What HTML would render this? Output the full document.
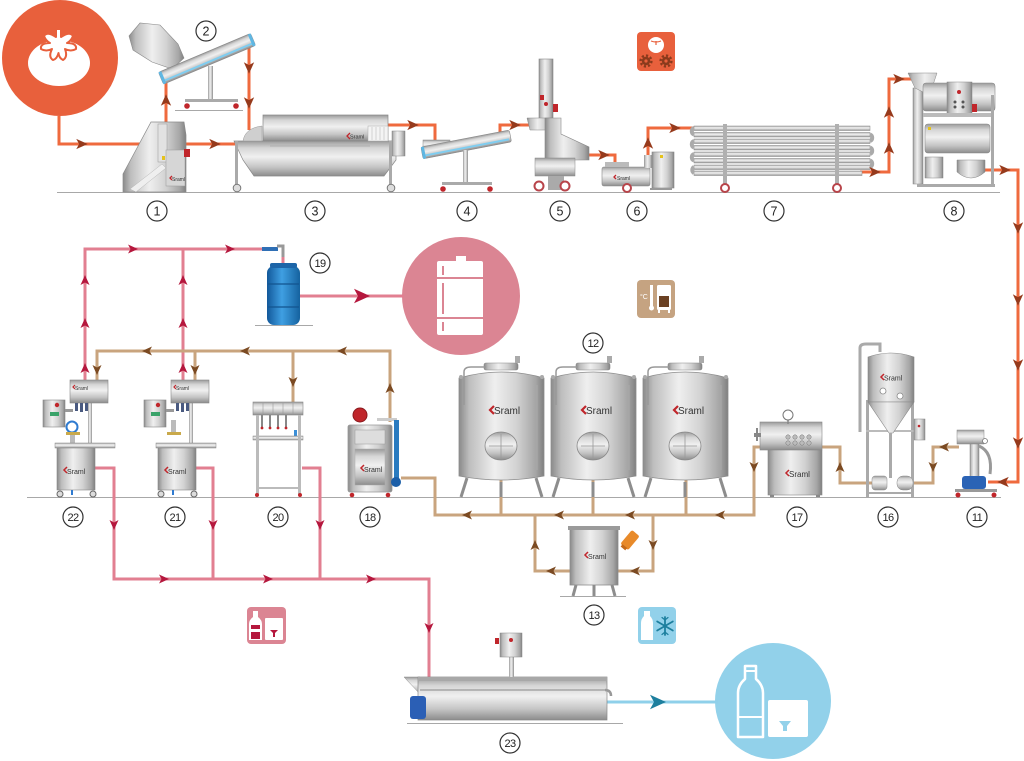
<!DOCTYPE html>
<html><head><meta charset="utf-8"><style>
html,body{margin:0;padding:0;background:#fff;}
svg{display:block;}
text{font-family:"Liberation Sans",sans-serif;}
</style></head><body>
<svg width="1024" height="761" viewBox="0 0 1024 761" xmlns="http://www.w3.org/2000/svg">
<defs>
<linearGradient id="gH" x1="0" y1="0" x2="1" y2="0">
<stop offset="0" stop-color="#8a8a8a"/><stop offset="0.12" stop-color="#bdbdbd"/><stop offset="0.42" stop-color="#efefef"/><stop offset="0.68" stop-color="#d2d2d2"/><stop offset="0.9" stop-color="#a6a6a6"/><stop offset="1" stop-color="#808080"/>
</linearGradient>
<linearGradient id="gV" x1="0" y1="0" x2="0" y2="1">
<stop offset="0" stop-color="#9a9a9a"/><stop offset="0.2" stop-color="#d6d6d6"/><stop offset="0.45" stop-color="#f0f0f0"/><stop offset="0.75" stop-color="#c4c4c4"/><stop offset="1" stop-color="#8c8c8c"/>
</linearGradient>
<linearGradient id="gB" x1="0" y1="0" x2="1" y2="0">
<stop offset="0" stop-color="#12589a"/><stop offset="0.45" stop-color="#3f9fe2"/><stop offset="1" stop-color="#15629f"/>
</linearGradient>
<polygon id="ar" points="-5,-4.5 5,0 -5,4.5 -2.5,0"/>
</defs>

<!-- ground lines -->
<g stroke="#a8a8a8" stroke-width="1">
<line x1="57" y1="192.5" x2="1000" y2="192.5"/>
<line x1="27" y1="497.5" x2="1001" y2="497.5"/>
<line x1="175" y1="110.5" x2="243" y2="110.5"/>
<line x1="255" y1="325.5" x2="313" y2="325.5"/>
<line x1="560" y1="596.5" x2="626" y2="596.5"/>
<line x1="407" y1="723.5" x2="623" y2="723.5"/>
</g>

<!-- big circles -->
<circle cx="60" cy="58" r="58" fill="#e8603c"/>
<ellipse cx="59" cy="63" rx="31" ry="23" fill="#fff"/>
<path d="M56,29 H61 V37 Q70,31 73,36 Q71,41 67,43 Q77,43 76,49 Q71,52 65,49 Q68,57 63,60 Q59,58 58.5,53 Q57,59 53,60 Q48,57 52,49 Q46,52 41,49 Q40,43 50,43 Q46,41 44,36 Q47,31 56,37 Z" fill="#fff" stroke="#e8603c" stroke-width="2" stroke-linejoin="round"/>

<circle cx="461" cy="296" r="59" fill="#db8593"/>
<rect x="456" y="256" width="10" height="6" fill="#fff"/>
<rect x="437" y="261" width="46" height="74" rx="2" fill="#fff"/>
<g stroke="#db8593" stroke-width="2">
<line x1="437" y1="278" x2="483" y2="278"/><line x1="437" y1="318" x2="483" y2="318"/>
<line x1="443" y1="266" x2="443" y2="275"/><line x1="443" y1="283" x2="443" y2="314"/><line x1="443" y1="322" x2="443" y2="331"/>
</g>

<circle cx="773" cy="701" r="58" fill="#92d1ea"/>
<path d="M745,666 H756 V679 Q763,685 763,693 V737 H738 V693 Q738,685 745,679 Z" fill="none" stroke="#fff" stroke-width="2.5" stroke-linejoin="round"/>
<line x1="745" y1="671" x2="756" y2="671" stroke="#fff" stroke-width="2"/>
<line x1="738" y1="717" x2="763" y2="717" stroke="#fff" stroke-width="2"/>
<rect x="768" y="700" width="40" height="37" rx="2" fill="#fff"/>
<polygon points="779,721 791,721 787,726 787,731 783,731 783,726" fill="#92d1ea"/>

<!-- icon squares -->
<rect x="637" y="32" width="38" height="39" rx="4" fill="#e8603c"/>
<circle cx="656" cy="45" r="8" fill="#fff"/>
<path d="M651,41 q5,2 10,0 M656,41 v4" stroke="#e8603c" stroke-width="1.2" fill="none"/>
<g fill="#8a3a1c">
<circle cx="646" cy="61" r="4.2"/><circle cx="666" cy="61" r="4.2"/>
</g>
<g fill="none" stroke="#8a3a1c" stroke-width="2.4" stroke-dasharray="2.2 2">
<circle cx="646" cy="61" r="5.4"/><circle cx="666" cy="61" r="5.4"/>
</g>
<circle cx="646" cy="61" r="1.6" fill="#e8603c"/><circle cx="666" cy="61" r="1.6" fill="#e8603c"/>

<rect x="637" y="280" width="38" height="38" rx="4" fill="#c5a381"/>
<text x="640" y="299" font-size="7" fill="#fff">°C</text>
<rect x="650" y="285" width="3" height="22" fill="#fff"/><circle cx="651.5" cy="308" r="2.5" fill="#fff"/>
<rect x="657" y="285" width="14" height="25" rx="1.5" fill="#fff"/>
<rect x="659" y="296" width="10" height="11" fill="#6b4123"/>
<rect x="658" y="310" width="2" height="3" fill="#fff"/><rect x="668" y="310" width="2" height="3" fill="#fff"/>

<rect x="247" y="607" width="39" height="37" rx="4" fill="#db8593"/>
<path d="M253,611 H258 V617 Q262,620 262,624 V640 H249 V624 Q249,620 253,617 Z" fill="#fff"/>
<rect x="251" y="625" width="9" height="4" fill="#b5173d"/><rect x="251" y="632" width="9" height="7" fill="#b5173d"/>
<rect x="265" y="618" width="18" height="22" rx="1" fill="#fff"/>
<polygon points="270,630 278,630 275,633 275,637 273,637 273,633" fill="#b5173d"/>

<rect x="638" y="607" width="38" height="37" rx="4" fill="#92d1ea"/>
<path d="M644,611 H650 V616 Q653,619 653,623 V640 H641 V623 Q641,619 644,616 Z" fill="#fff"/>
<g stroke="#1d7f9e" stroke-width="1.8" stroke-linecap="round">
<line x1="665" y1="617" x2="665" y2="635"/><line x1="657.2" y1="621.5" x2="672.8" y2="630.5"/><line x1="657.2" y1="630.5" x2="672.8" y2="621.5"/>
<path d="M662,617.5 l3,2.5 3,-2.5 M662,634.5 l3,-2.5 3,2.5" fill="none" stroke-width="1.2"/>
</g>

<!-- PIPES -->
<g fill="none" stroke="#ef6a3e" stroke-width="3" stroke-linejoin="miter">
<path d="M59,116 V144 H242"/>
<path d="M166,124 V76"/>
<path d="M249,44 V130"/>
<path d="M386,125 H435 V142"/>
<path d="M500,140 V125 H537"/>
<path d="M587,155 H615 V168"/>
<path d="M648,160 V128 H694"/>
<path d="M860,172 H889 V79 H912"/>
<path d="M985,170 H1018 V482 H988"/>
</g>
<g fill="none" stroke="#e27f91" stroke-width="3">
<path d="M85,384 V249 H275"/>
<path d="M183,384 V249"/>
<path d="M283,255 V267"/>
<path d="M299,296 H404"/>
<path d="M95,468 H114 V579 H429 V680"/>
<path d="M195,468 H213 V579"/>
<path d="M302,468 H320 V579"/>
</g>
<path d="M262,249 H278" stroke="#2f6fb5" stroke-width="4"/>
<path d="M277,246 H283 V257" fill="none" stroke="#999" stroke-width="3"/>
<g fill="none" stroke="#c9a47e" stroke-width="3">
<path d="M97,382 V351 H390 V422"/>
<path d="M195,351 V382"/>
<path d="M293,351 V404"/>
<path d="M401,478 H435 V515 H754 V447 H770"/>
<path d="M501,476 V515 M593,476 V515 M686,476 V515"/>
<path d="M535,515 V571 H572"/>
<path d="M616,571 H653 V515"/>
<path d="M820,447 H840 V483 H874"/>
<path d="M911,483 H933 V447 H959"/>
</g>
<path d="M605,702 H718" stroke="#8fd0ea" stroke-width="3"/>

<!-- MACHINE 1 -->
<polygon points="123,192 123,174 151,122 184,122 186,135 186,192" fill="url(#gH)" stroke="#8a8a8a" stroke-width="0.7"/>
<rect x="158" y="124" width="9" height="38" fill="#e2e2e2" stroke="#999" stroke-width="0.5"/>
<rect x="166" y="150" width="19" height="36" fill="#d6d6d6" stroke="#999" stroke-width="0.5"/>
<polygon points="130,189 162,164 166,168 136,192" fill="#efefef" stroke="#aaa" stroke-width="0.4"/>
<rect x="184" y="149" width="6" height="8" fill="#c0262b"/>
<rect x="162" y="156" width="3" height="4" fill="#e5c21c"/>
<path d="M172,176 l-2,2 2,2" stroke="#c0262b" stroke-width="1.3" fill="none"/><text x="172" y="181" font-size="5" fill="#333">Sraml</text>

<!-- MACHINE 2 -->
<polygon points="129,36 140,23 160,25 178,44 184,58 172,69 152,62 133,50" fill="url(#gH)" stroke="#8a8a8a" stroke-width="0.6"/>
<g transform="translate(163,78) rotate(-22.9)">
<rect x="-2" y="-7" width="100" height="13" rx="2" fill="url(#gV)" stroke="#888" stroke-width="0.6"/>
<rect x="0" y="2" width="96" height="2" fill="#7fcdf0"/>
<rect x="-2" y="-7" width="3" height="13" fill="#5fb7e3"/>
<rect x="95" y="-7" width="3" height="13" fill="#5fb7e3"/>
</g>
<rect x="208" y="66" width="5" height="34" fill="url(#gH)"/>
<rect x="185" y="99" width="53" height="3" fill="#aaa"/>
<circle cx="187" cy="106" r="2.8" fill="#c0262b"/><circle cx="236" cy="106" r="2.8" fill="#c0262b"/>

<!-- MACHINE 3 -->
<rect x="263" y="115" width="125" height="26" fill="url(#gV)" stroke="#888" stroke-width="0.7"/>
<polygon points="234,141 396,141 396,160 384,176 254,176 243,160" fill="url(#gV)" stroke="#888" stroke-width="0.7"/>
<path d="M243,141 Q245,128 262,126 V141 Z" fill="#cfcfcf" stroke="#999" stroke-width="0.5"/>
<rect x="368" y="126" width="20" height="15" fill="#f4f4f4" stroke="#aaa" stroke-width="0.5"/>
<g stroke="#bbb" stroke-width="0.6"><line x1="372" y1="127" x2="372" y2="140"/><line x1="376" y1="127" x2="376" y2="140"/><line x1="380" y1="127" x2="380" y2="140"/><line x1="384" y1="127" x2="384" y2="140"/></g>
<rect x="392" y="131" width="13" height="25" fill="url(#gH)" stroke="#888" stroke-width="0.5"/>
<rect x="235" y="141" width="3" height="45" fill="#aaa"/><rect x="389" y="141" width="3" height="45" fill="#aaa"/>
<circle cx="237" cy="188" r="3.8" fill="#ddd" stroke="#777" stroke-width="1"/><circle cx="391" cy="188" r="3.8" fill="#ddd" stroke="#777" stroke-width="1"/>
<line x1="270" y1="146" x2="370" y2="146" stroke="#aaa" stroke-width="0.8"/>
<path d="M350,133 l-3,3 3,3" stroke="#c0262b" stroke-width="1.3" fill="none"/><text x="350" y="138.5" font-size="5.5" fill="#333">Sraml</text>

<!-- MACHINE 4 -->
<rect x="423" y="140" width="27" height="10" fill="url(#gV)" stroke="#888" stroke-width="0.5"/>
<g transform="translate(422,153) rotate(-10.9)">
<rect x="0" y="-6" width="90" height="12" rx="2" fill="url(#gV)" stroke="#888" stroke-width="0.6"/>
<rect x="2" y="2" width="86" height="2" fill="#7fcdf0"/>
<rect x="0" y="-6" width="3" height="12" fill="#5fb7e3"/>
</g>
<rect x="463" y="150" width="5" height="33" fill="url(#gH)"/>
<rect x="442" y="182" width="50" height="3" fill="#aaa"/>
<circle cx="443" cy="189" r="2.8" fill="#c0262b"/><circle cx="490" cy="189" r="2.8" fill="#c0262b"/>

<!-- MACHINE 5 -->
<rect x="539" y="59" width="14" height="60" fill="url(#gH)" stroke="#888" stroke-width="0.6"/>
<rect x="540" y="95" width="4" height="5" fill="#c0262b"/><rect x="553" y="104" width="5" height="8" fill="#c0262b"/>
<circle cx="546" cy="104" r="2" fill="#c0262b"/>
<polygon points="527,118 552,118 552,130 530,130" fill="url(#gH)" stroke="#888" stroke-width="0.5"/>
<polygon points="545,118 561,118 561,134 589,147 589,160 545,160" fill="url(#gH)" stroke="#888" stroke-width="0.6"/>
<rect x="535" y="158" width="40" height="18" fill="url(#gV)" stroke="#888" stroke-width="0.5"/>
<rect x="548" y="176" width="16" height="14" fill="#aaa"/>
<circle cx="539" cy="186" r="4.5" fill="#fff" stroke="#b8444a" stroke-width="2"/><circle cx="565" cy="186" r="4.5" fill="#fff" stroke="#b8444a" stroke-width="2"/>

<!-- MACHINE 6 -->
<rect x="602" y="167" width="48" height="19" rx="2" fill="url(#gV)" stroke="#888" stroke-width="0.6"/>
<rect x="605" y="162" width="24" height="5" fill="#bbb"/>
<rect x="644" y="155" width="8" height="13" fill="url(#gH)"/>
<rect x="652" y="152" width="22" height="36" fill="url(#gH)" stroke="#888" stroke-width="0.6"/>
<rect x="660" y="155" width="3" height="3" fill="#e5c21c"/>
<rect x="650" y="188" width="22" height="2" fill="#999"/>
<circle cx="627" cy="188" r="4" fill="#fff" stroke="#b8444a" stroke-width="2"/>
<path d="M616,175 l-2,2 2,2" stroke="#c0262b" stroke-width="1.3" fill="none"/><text x="617" y="180" font-size="5" fill="#333">Sraml</text>

<!-- MACHINE 7 -->
<g fill="url(#gV)" stroke="#888" stroke-width="0.5">
<rect x="694" y="126" width="176" height="4.5"/>
<rect x="694" y="132.5" width="176" height="4.5"/>
<rect x="694" y="139" width="176" height="4.5"/>
<rect x="694" y="145.5" width="176" height="4.5"/>
<rect x="694" y="152" width="176" height="4.5"/>
<rect x="694" y="158.5" width="176" height="4.5"/>
<rect x="694" y="165" width="176" height="4.5"/>
<rect x="694" y="171" width="168" height="4.5"/>
</g>
<g fill="none" stroke="#aaa" stroke-width="4">
<path d="M694,134.5 A3.5,3.5 0 0 1 694,128"/>
<path d="M694,147.5 A3.5,3.5 0 0 1 694,141"/>
<path d="M694,160.5 A3.5,3.5 0 0 1 694,154"/>
<path d="M694,173 A3.5,3.5 0 0 1 694,167"/>
<path d="M870,141 A3.5,3.5 0 0 0 870,134.5"/>
<path d="M870,154 A3.5,3.5 0 0 0 870,147.5"/>
<path d="M870,167 A3.5,3.5 0 0 0 870,160.5"/>
</g>
<rect x="723" y="124" width="4" height="62" fill="#b0b0b0"/><rect x="835" y="124" width="4" height="62" fill="#b0b0b0"/>
<circle cx="725" cy="188" r="4" fill="#fff" stroke="#b8444a" stroke-width="2"/><circle cx="837" cy="188" r="4" fill="#fff" stroke="#b8444a" stroke-width="2"/>

<!-- MACHINE 8 -->
<rect x="913" y="88" width="10" height="96" fill="url(#gH)" stroke="#888" stroke-width="0.5"/>
<polygon points="908,73 937,73 932,88 948,105 942,110 925,93 915,88" fill="url(#gH)" stroke="#888" stroke-width="0.5"/>
<rect x="923" y="83" width="72" height="28" rx="3" fill="url(#gV)" stroke="#888" stroke-width="0.6"/>
<rect x="947" y="82" width="25" height="33" fill="url(#gH)" stroke="#888" stroke-width="0.5"/>
<circle cx="959" cy="92" r="2" fill="#c0262b"/>
<circle cx="955" cy="102" r="1.5" fill="#555"/><circle cx="963" cy="102" r="1.5" fill="#555"/><circle cx="955" cy="107" r="1.5" fill="#555"/><circle cx="963" cy="107" r="1.5" fill="#555"/>
<rect x="972" y="104" width="5" height="8" fill="#c0262b"/>
<rect x="923" y="113" width="70" height="4" fill="#bbb"/>
<rect x="925" y="124" width="65" height="29" rx="3" fill="url(#gV)" stroke="#888" stroke-width="0.6"/>
<rect x="925" y="157" width="18" height="21" fill="url(#gH)" stroke="#888" stroke-width="0.5"/>
<path d="M957,160 H985 V172 Q971,184 957,172 Z" fill="url(#gH)" stroke="#888" stroke-width="0.5"/>
<rect x="991" y="95" width="3" height="92" fill="#aaa"/><rect x="917" y="184" width="78" height="3" fill="#aaa"/>
<rect x="928" y="127" width="3" height="3" fill="#e5c21c"/>

<!-- MACHINE 22 & 21 -->
<g>
<rect x="43" y="400" width="22" height="27" fill="url(#gH)" stroke="#888" stroke-width="0.6"/>
<circle cx="57" cy="405" r="2.2" fill="#c0262b"/>
<rect x="50" y="412" width="9" height="4" fill="#3aa36a"/>
<rect x="65" y="409" width="8" height="3" fill="#999"/>
<rect x="88" y="403" width="4" height="42" fill="url(#gH)"/>
<rect x="70" y="380" width="38" height="23" fill="url(#gV)" stroke="#888" stroke-width="0.6"/>
<path d="M75,385 l-2,2 2,2" stroke="#c0262b" stroke-width="1.2" fill="none"/><text x="75" y="390" font-size="5" fill="#333">Sraml</text>
<rect x="75" y="403" width="3" height="8" fill="#4a5a80"/><rect x="80" y="403" width="3" height="9" fill="#4a5a80"/><rect x="85" y="403" width="3" height="8" fill="#4a5a80"/>
<circle cx="72" cy="427" r="5.5" fill="none" stroke="#2f7bd0" stroke-width="2"/>
<rect x="66" y="432" width="14" height="3" fill="#c9a94b"/>
<rect x="70" y="435" width="5" height="8" fill="#bbb"/>
<rect x="55" y="443" width="60" height="5" fill="url(#gV)" stroke="#888" stroke-width="0.5"/>
<rect x="57" y="448" width="38" height="42" fill="url(#gH)" stroke="#888" stroke-width="0.6"/>
<path d="M67,467 l-3,3 3,3" stroke="#c0262b" stroke-width="1.5" fill="none"/><text x="67" y="474" font-size="7" fill="#333">Sraml</text>
<circle cx="60" cy="494" r="3" fill="#ddd" stroke="#666" stroke-width="1"/><circle cx="93" cy="494" r="3" fill="#ddd" stroke="#666" stroke-width="1"/>
<rect x="71" y="490" width="2" height="5" fill="#2f7bd0"/>
</g>
<g transform="translate(101,0)">
<rect x="43" y="400" width="22" height="27" fill="url(#gH)" stroke="#888" stroke-width="0.6"/>
<circle cx="57" cy="405" r="2.2" fill="#c0262b"/>
<rect x="50" y="412" width="9" height="4" fill="#3aa36a"/>
<rect x="65" y="409" width="8" height="3" fill="#999"/>
<rect x="88" y="403" width="4" height="42" fill="url(#gH)"/>
<rect x="70" y="380" width="38" height="23" fill="url(#gV)" stroke="#888" stroke-width="0.6"/>
<path d="M75,385 l-2,2 2,2" stroke="#c0262b" stroke-width="1.2" fill="none"/><text x="75" y="390" font-size="5" fill="#333">Sraml</text>
<rect x="75" y="403" width="3" height="8" fill="#4a5a80"/><rect x="80" y="403" width="3" height="9" fill="#4a5a80"/><rect x="85" y="403" width="3" height="8" fill="#4a5a80"/>
<rect x="70" y="420" width="5" height="14" fill="#bbb"/>
<rect x="66" y="432" width="14" height="3" fill="#c9a94b"/>
<rect x="55" y="443" width="60" height="5" fill="url(#gV)" stroke="#888" stroke-width="0.5"/>
<rect x="57" y="448" width="38" height="42" fill="url(#gH)" stroke="#888" stroke-width="0.6"/>
<path d="M67,467 l-3,3 3,3" stroke="#c0262b" stroke-width="1.5" fill="none"/><text x="67" y="474" font-size="7" fill="#333">Sraml</text>
<circle cx="60" cy="494" r="3" fill="#ddd" stroke="#666" stroke-width="1"/><circle cx="93" cy="494" r="3" fill="#ddd" stroke="#666" stroke-width="1"/>
<rect x="71" y="490" width="2" height="5" fill="#2f7bd0"/>
</g>

<!-- MACHINE 20 -->
<rect x="253" y="402" width="50" height="13" fill="url(#gV)" stroke="#888" stroke-width="0.6"/>
<g stroke="#999" stroke-width="0.6"><line x1="263" y1="403" x2="263" y2="414"/><line x1="273" y1="403" x2="273" y2="414"/><line x1="283" y1="403" x2="283" y2="414"/><line x1="293" y1="403" x2="293" y2="414"/></g>
<g fill="#888"><rect x="261" y="415" width="2" height="12"/><rect x="269" y="415" width="2" height="12"/><rect x="277" y="415" width="2" height="12"/><rect x="285" y="415" width="2" height="12"/></g>
<g fill="#c0262b"><circle cx="262" cy="428" r="1.4"/><circle cx="270" cy="428" r="1.4"/><circle cx="278" cy="428" r="1.4"/><circle cx="286" cy="428" r="1.4"/></g>
<rect x="294" y="430" width="3" height="6" fill="#3b8fd8"/>
<rect x="253" y="436" width="50" height="4" fill="url(#gV)" stroke="#888" stroke-width="0.5"/>
<rect x="256" y="415" width="3" height="80" fill="#bbb"/><rect x="298" y="415" width="3" height="80" fill="#bbb"/>
<rect x="256" y="487" width="45" height="2" fill="#bbb"/>
<circle cx="257" cy="495" r="2" fill="#c0262b"/><circle cx="300" cy="495" r="2" fill="#c0262b"/>

<!-- MACHINE 18 -->
<circle cx="360" cy="415" r="7" fill="#c0262b" stroke="#8a1a1e" stroke-width="1"/>
<rect x="348" y="425" width="44" height="67" rx="2" fill="url(#gH)" stroke="#999" stroke-width="0.8"/>
<rect x="355" y="430" width="30" height="14" fill="#ddd" stroke="#999" stroke-width="0.5"/>
<rect x="355" y="449" width="30" height="36" fill="url(#gV)" stroke="#aaa" stroke-width="0.5"/>
<path d="M364,465 l-3,3 3,3" stroke="#c0262b" stroke-width="1.5" fill="none"/><text x="364" y="472" font-size="7" fill="#333">Sraml</text>
<rect x="377" y="418" width="20" height="3" fill="#ccc"/>
<rect x="394" y="420" width="5" height="64" fill="#2a7bc0"/>
<circle cx="396" cy="482" r="5" fill="#1c5fa8"/>
<circle cx="352" cy="495" r="2.3" fill="#c0262b"/><circle cx="388" cy="495" r="2.3" fill="#c0262b"/>

<!-- BARREL 19 -->
<rect x="267" y="266" width="33" height="59" rx="7" fill="url(#gB)"/>
<rect x="270" y="263" width="27" height="5" rx="2" fill="#1d65a8"/>
<line x1="268" y1="284" x2="299" y2="284" stroke="#13548f" stroke-width="1.2"/>
<line x1="268" y1="307" x2="299" y2="307" stroke="#13548f" stroke-width="1.2"/>

<!-- TANKS 12 -->
<g>
<path d="M459,378 Q501,366 544,378 L544,476 Q501,484 459,476 Z" fill="url(#gH)" stroke="#8d8d8d" stroke-width="0.8"/>
<rect x="484" y="363" width="34" height="7" rx="2" fill="url(#gH)" stroke="#888" stroke-width="0.6"/>
<rect x="515" y="356" width="5" height="7" fill="#aaa"/>
<path d="M464,405 V372 Q464,367 471,367 H486" fill="none" stroke="#999" stroke-width="1.5"/>
<circle cx="461" cy="377" r="2" fill="#aaa"/><circle cx="542" cy="377" r="2" fill="#aaa"/>
<line x1="537" y1="385" x2="537" y2="470" stroke="#aaa" stroke-width="1"/>
<path d="M467,478 L461,497 M501,482 V497 M536,478 L542,497" stroke="#8d8d8d" stroke-width="3" fill="none"/>
<ellipse cx="501" cy="446" rx="16" ry="14" fill="url(#gV)" stroke="#888" stroke-width="0.8"/>
<path d="M489,446 H513 M501,434 V458" stroke="#999" stroke-width="0.8"/>
<path d="M494,406 l-4,4 4,4" stroke="#c0262b" stroke-width="2.2" fill="none"/><text x="494" y="414" font-size="10" fill="#333">Sraml</text>
</g>
<g transform="translate(92,0)">
<path d="M459,378 Q501,366 544,378 L544,476 Q501,484 459,476 Z" fill="url(#gH)" stroke="#8d8d8d" stroke-width="0.8"/>
<rect x="484" y="363" width="34" height="7" rx="2" fill="url(#gH)" stroke="#888" stroke-width="0.6"/>
<rect x="515" y="356" width="5" height="7" fill="#aaa"/>
<path d="M464,405 V372 Q464,367 471,367 H486" fill="none" stroke="#999" stroke-width="1.5"/>
<circle cx="461" cy="377" r="2" fill="#aaa"/><circle cx="542" cy="377" r="2" fill="#aaa"/>
<line x1="537" y1="385" x2="537" y2="470" stroke="#aaa" stroke-width="1"/>
<path d="M467,478 L461,497 M501,482 V497 M536,478 L542,497" stroke="#8d8d8d" stroke-width="3" fill="none"/>
<ellipse cx="501" cy="446" rx="16" ry="14" fill="url(#gV)" stroke="#888" stroke-width="0.8"/>
<path d="M489,446 H513 M501,434 V458" stroke="#999" stroke-width="0.8"/>
<path d="M494,406 l-4,4 4,4" stroke="#c0262b" stroke-width="2.2" fill="none"/><text x="494" y="414" font-size="10" fill="#333">Sraml</text>
</g>
<g transform="translate(184,0)">
<path d="M459,378 Q501,366 544,378 L544,476 Q501,484 459,476 Z" fill="url(#gH)" stroke="#8d8d8d" stroke-width="0.8"/>
<rect x="484" y="363" width="34" height="7" rx="2" fill="url(#gH)" stroke="#888" stroke-width="0.6"/>
<rect x="515" y="356" width="5" height="7" fill="#aaa"/>
<path d="M464,405 V372 Q464,367 471,367 H486" fill="none" stroke="#999" stroke-width="1.5"/>
<circle cx="461" cy="377" r="2" fill="#aaa"/><circle cx="542" cy="377" r="2" fill="#aaa"/>
<line x1="537" y1="385" x2="537" y2="470" stroke="#aaa" stroke-width="1"/>
<path d="M467,478 L461,497 M501,482 V497 M536,478 L542,497" stroke="#8d8d8d" stroke-width="3" fill="none"/>
<ellipse cx="501" cy="446" rx="16" ry="14" fill="url(#gV)" stroke="#888" stroke-width="0.8"/>
<path d="M489,446 H513 M501,434 V458" stroke="#999" stroke-width="0.8"/>
<path d="M494,406 l-4,4 4,4" stroke="#c0262b" stroke-width="2.2" fill="none"/><text x="494" y="414" font-size="10" fill="#333">Sraml</text>
</g>

<!-- TANK 13 -->
<rect x="570" y="529" width="48" height="56" fill="url(#gH)" stroke="#8d8d8d" stroke-width="0.8"/>
<rect x="568" y="526" width="52" height="4" fill="#9a9a9a"/>
<path d="M576,585 L573,596 M594,585 V596 M612,585 L615,596" stroke="#8d8d8d" stroke-width="3"/>
<path d="M588,552 l-3,3 3,3" stroke="#c0262b" stroke-width="1.5" fill="none"/><text x="588" y="559" font-size="7" fill="#333">Sraml</text>
<g transform="translate(630,540) rotate(-50)"><rect x="-9" y="-5" width="18" height="10" rx="2" fill="#e88a2a"/><rect x="-11" y="-3" width="3" height="6" fill="#c46a1a"/></g>

<!-- MACHINE 17 -->
<rect x="760" y="422" width="62" height="28" fill="url(#gV)" stroke="#888" stroke-width="0.6"/>
<rect x="768" y="450" width="54" height="45" fill="url(#gH)" stroke="#888" stroke-width="0.6"/>
<rect x="754" y="433" width="7" height="4" fill="#888"/><rect x="756" y="428" width="2" height="13" fill="#888"/>
<g fill="#bbb" stroke="#777" stroke-width="0.5"><circle cx="788" cy="437" r="2.2"/><circle cx="795" cy="437" r="2.2"/><circle cx="802" cy="437" r="2.2"/><circle cx="809" cy="437" r="2.2"/><circle cx="788" cy="443" r="2.2"/><circle cx="795" cy="443" r="2.2"/><circle cx="802" cy="443" r="2.2"/><circle cx="809" cy="443" r="2.2"/></g>
<line x1="788" y1="420" x2="788" y2="424" stroke="#888" stroke-width="1.5"/>
<circle cx="788" cy="415" r="5" fill="#fff" stroke="#777" stroke-width="1"/>
<path d="M789,470 l-3,3 3,3" stroke="#c0262b" stroke-width="1.5" fill="none"/><text x="789" y="477" font-size="8" fill="#333">Sraml</text>
<rect x="770" y="495" width="4" height="2" fill="#888"/><rect x="816" y="495" width="4" height="2" fill="#888"/>

<!-- MACHINE 16 -->
<rect x="866" y="400" width="3" height="97" fill="#aaa"/><rect x="911" y="400" width="3" height="97" fill="#aaa"/>
<rect x="866" y="430" width="48" height="2" fill="#bbb"/><rect x="866" y="492" width="48" height="2" fill="#aaa"/>
<path d="M860,432 V348 Q860,344 866,344 H880 V352" fill="none" stroke="#aaa" stroke-width="3"/>
<path d="M868,357 Q891,349 914,357 V402 H868 Z" fill="url(#gH)" stroke="#888" stroke-width="0.6"/>
<polygon points="868,402 914,402 893,433 889,433" fill="url(#gH)" stroke="#888" stroke-width="0.6"/>
<rect x="889" y="433" width="3" height="45" fill="#aaa"/>
<circle cx="883" cy="391" r="3" fill="#fff" stroke="#888" stroke-width="0.8"/><circle cx="900" cy="396" r="3" fill="#fff" stroke="#888" stroke-width="0.8"/>
<rect x="914" y="419" width="11" height="21" fill="url(#gH)" stroke="#888" stroke-width="0.5"/><circle cx="919" cy="426" r="1.3" fill="#c0262b"/>
<path d="M884,374 l-3,3 3,3" stroke="#c0262b" stroke-width="1.5" fill="none"/><text x="884" y="380.5" font-size="7" fill="#333">Sraml</text>
<rect x="872" y="476" width="15" height="14" rx="3" fill="url(#gV)" stroke="#888" stroke-width="0.5"/>
<rect x="897" y="476" width="16" height="14" rx="6" fill="url(#gV)" stroke="#888" stroke-width="0.5"/>

<!-- MACHINE 11 -->
<rect x="957" y="430" width="27" height="14" fill="url(#gV)" stroke="#888" stroke-width="0.5"/>
<rect x="970" y="444" width="9" height="34" fill="url(#gH)" stroke="#888" stroke-width="0.5"/>
<path d="M979,446 Q993,452 990,474" fill="none" stroke="#999" stroke-width="3"/>
<circle cx="985" cy="441" r="2.5" fill="#fff" stroke="#777" stroke-width="0.8"/>
<rect x="962" y="476" width="24" height="13" rx="3" fill="#2b63b5"/>
<rect x="955" y="489" width="42" height="3" fill="#999"/>
<circle cx="958" cy="495" r="2.5" fill="#c0262b"/><circle cx="994" cy="495" r="2.5" fill="#c0262b"/>

<!-- MACHINE 23 -->
<polygon points="404,677 420,677 420,694" fill="url(#gV)" stroke="#888" stroke-width="0.5"/>
<rect x="418" y="677" width="189" height="43" fill="url(#gV)" stroke="#888" stroke-width="0.7"/>
<rect x="418" y="677" width="189" height="4" fill="#a8a8a8"/>
<line x1="420" y1="690" x2="605" y2="690" stroke="#888" stroke-width="1"/>
<rect x="410" y="696" width="16" height="23" rx="3" fill="#2b5fb5"/>
<rect x="509" y="657" width="5" height="20" fill="url(#gH)"/>
<rect x="500" y="633" width="22" height="24" fill="url(#gH)" stroke="#888" stroke-width="0.5"/>
<circle cx="511" cy="640" r="2" fill="#c0262b"/>
<rect x="495" y="638" width="4" height="6" fill="#c0262b"/>
<path d="M605,690 q6,0 6,6" fill="none" stroke="#999" stroke-width="2.5"/>

<!-- ARROWS -->
<g fill="#963a1c">
<use href="#ar" transform="translate(82,144) scale(1.15)"/>
<use href="#ar" transform="translate(215,144) scale(1.15)"/>
<use href="#ar" transform="translate(166,100) rotate(-90) scale(1.15)"/>
<use href="#ar" transform="translate(249,68) rotate(90) scale(1.15)"/>
<use href="#ar" transform="translate(249,103) rotate(90) scale(1.15)"/>
<use href="#ar" transform="translate(413,125) scale(1.15)"/>
<use href="#ar" transform="translate(515,125) scale(1.15)"/>
<use href="#ar" transform="translate(604,155) scale(1.15)"/>
<use href="#ar" transform="translate(648,143) rotate(-90) scale(1.15)"/>
<use href="#ar" transform="translate(675,128) scale(1.15)"/>
<use href="#ar" transform="translate(875,172) scale(1.15)"/>
<use href="#ar" transform="translate(889,148) rotate(-90) scale(1.15)"/>
<use href="#ar" transform="translate(889,112) rotate(-90) scale(1.15)"/>
<use href="#ar" transform="translate(899,79) scale(1.15)"/>
<use href="#ar" transform="translate(1005,170) scale(1.15)"/>
<use href="#ar" transform="translate(1018,228) rotate(90) scale(1.15)"/>
<use href="#ar" transform="translate(1018,300) rotate(90) scale(1.15)"/>
<use href="#ar" transform="translate(1018,365) rotate(90) scale(1.15)"/>
<use href="#ar" transform="translate(1018,443) rotate(90) scale(1.15)"/>
<use href="#ar" transform="translate(1003,482) rotate(180) scale(1.15)"/>
</g>
<g fill="#b5173d">
<use href="#ar" transform="translate(85,280) rotate(-90)"/>
<use href="#ar" transform="translate(85,323) rotate(-90)"/>
<use href="#ar" transform="translate(85,368) rotate(-90)"/>
<use href="#ar" transform="translate(183,280) rotate(-90)"/>
<use href="#ar" transform="translate(183,323) rotate(-90)"/>
<use href="#ar" transform="translate(183,368) rotate(-90)"/>
<use href="#ar" transform="translate(133,249)"/>
<use href="#ar" transform="translate(230,249)"/>
<use href="#ar" transform="translate(114,525) rotate(90)"/>
<use href="#ar" transform="translate(213,525) rotate(90)"/>
<use href="#ar" transform="translate(320,525) rotate(90)"/>
<use href="#ar" transform="translate(429,628) rotate(90)"/>
<use href="#ar" transform="translate(164,579)"/>
<use href="#ar" transform="translate(268,579)"/>
<use href="#ar" transform="translate(371,579)"/>
<use href="#ar" transform="translate(362,296) scale(1.6)"/>
</g>
<g fill="#7b4a22">
<use href="#ar" transform="translate(147,351) rotate(180)"/>
<use href="#ar" transform="translate(245,351) rotate(180)"/>
<use href="#ar" transform="translate(342,351) rotate(180)"/>
<use href="#ar" transform="translate(390,388) rotate(-90)"/>
<use href="#ar" transform="translate(97,370) rotate(90)"/>
<use href="#ar" transform="translate(195,370) rotate(90)"/>
<use href="#ar" transform="translate(293,382) rotate(90)"/>
<use href="#ar" transform="translate(467,515) rotate(180)"/>
<use href="#ar" transform="translate(559,515) rotate(180)"/>
<use href="#ar" transform="translate(630,515) rotate(180)"/>
<use href="#ar" transform="translate(720,515) rotate(180)"/>
<use href="#ar" transform="translate(754,467) rotate(90)"/>
<use href="#ar" transform="translate(535,545) rotate(-90)"/>
<use href="#ar" transform="translate(653,545) rotate(90)"/>
<use href="#ar" transform="translate(551,571) rotate(180)"/>
<use href="#ar" transform="translate(635,571) rotate(180)"/>
<use href="#ar" transform="translate(840,467) rotate(-90)"/>
<use href="#ar" transform="translate(933,467) rotate(90)"/>
<use href="#ar" transform="translate(944,447) rotate(180)"/>
</g>
<use href="#ar" fill="#1d7f9e" transform="translate(658,702) scale(1.6)"/>

<!-- NUMBER LABELS -->
<g fill="#fff" stroke="#333" stroke-width="1.2">
<circle cx="157" cy="211" r="10"/><circle cx="206" cy="31" r="10"/><circle cx="315" cy="211" r="10"/><circle cx="467" cy="211" r="10"/>
<circle cx="560" cy="211" r="10"/><circle cx="637" cy="211" r="10"/><circle cx="774" cy="211" r="10"/><circle cx="954" cy="211" r="10"/>
<circle cx="977" cy="517" r="10"/><circle cx="593" cy="343" r="10"/><circle cx="594" cy="615" r="10"/><circle cx="888" cy="517" r="10"/>
<circle cx="797" cy="517" r="10"/><circle cx="370" cy="517" r="10"/><circle cx="320" cy="263" r="10"/><circle cx="278" cy="517" r="10"/>
<circle cx="175" cy="517" r="10"/><circle cx="73" cy="517" r="10"/><circle cx="510" cy="743" r="10"/>
</g>
<g fill="#222" font-size="12.5" text-anchor="middle">
<text x="157" y="215.5">1</text><text x="206" y="35.5">2</text><text x="315" y="215.5">3</text><text x="467" y="215.5">4</text>
<text x="560" y="215.5">5</text><text x="637" y="215.5">6</text><text x="774" y="215.5">7</text><text x="954" y="215.5">8</text>
</g>
<g fill="#222" font-size="11" text-anchor="middle" letter-spacing="-0.6">
<text x="977" y="521">11</text><text x="593" y="347">12</text><text x="594" y="619">13</text><text x="888" y="521">16</text>
<text x="797" y="521">17</text><text x="370" y="521">18</text><text x="320" y="267">19</text><text x="278" y="521">20</text>
<text x="175" y="521">21</text><text x="73" y="521">22</text><text x="510" y="747">23</text>
</g>
</svg>
</body></html>
